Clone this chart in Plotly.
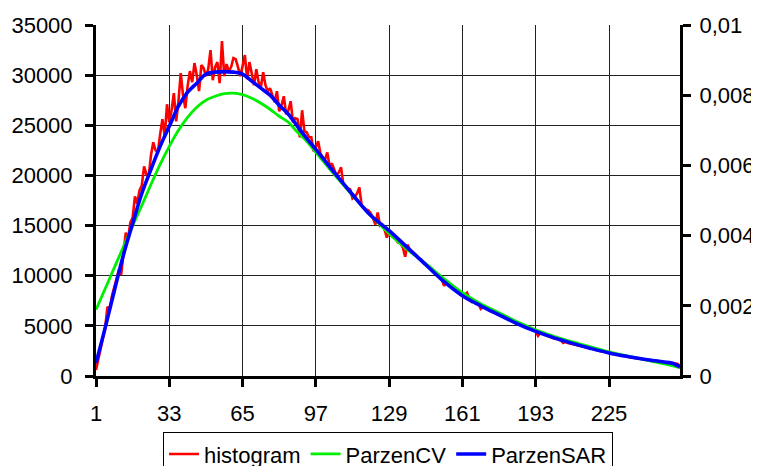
import plotly.graph_objects as go

# ── Data ──────────────────────────────────────────────────────────────────────
BINS = list(range(1, 257))

HISTOGRAM = [
    600, 1700, 2900, 3700, 4800, 6900, 6700, 8000, 8900, 9700, 10600, 10100, 12400, 14300, 13700, 15300,
    15800, 17900, 17200, 18500, 19000, 20900, 20100, 19900, 22000, 23300, 22500, 22300, 24100, 25600, 23900, 27100,
    25300, 26500, 28200, 25400, 27400, 30200, 28000, 26700, 28900, 30400, 29300, 31200, 30000, 28400, 31000, 30700,
    29900, 30600, 32500, 29500, 30800, 31300, 29200, 33400, 29900, 31100, 30400, 30800, 31700, 31600, 30800, 29900,
    30900, 32000, 29600, 31300, 30200, 29000, 30600, 29300, 28800, 30300, 29000, 28400, 28700, 28000, 27300, 28400,
    26400, 27000, 27900, 26100, 26500, 27400, 25300, 25700, 25600, 23800, 26500, 24400, 24300, 23800, 23800, 22400,
    22800, 23400, 22200, 21800, 21600, 22300, 20900, 21200, 20600, 20000, 20300, 20800, 19100, 18900, 18700, 18600,
    17700, 17900, 18200, 18800, 17000, 16800, 16600, 16500, 16200, 15700, 15100, 16300, 15000, 15100, 14600, 13800,
    14500, 14000, 13800, 13600, 13300, 13200, 12800, 11900, 13100, 12600, 12400, 12200, 12000, 11700, 11600, 11300,
    11100, 10900, 10700, 10500, 10200, 10000, 9800, 9600, 9000, 9300, 9100, 8900, 8700, 8500, 8400, 8100,
    8000, 8100, 8300, 7700, 7400, 7500, 7300, 7200, 6700, 6900, 6800, 6700, 6500, 6400, 6300, 6200,
    6100, 6000, 5900, 5800, 5700, 5600, 5500, 5300, 5200, 5100, 5000, 4900, 4800, 4700, 4600, 4550,
    4450, 4000, 4300, 4200, 4100, 4000, 3950, 3850, 3750, 3700, 3600, 3550, 3300, 3400, 3300, 3250,
    3200, 3150, 3100, 3000, 2950, 2900, 2850, 2800, 2750, 2700, 2650, 2600, 2500, 2450, 2400, 2350,
    2300, 2250, 2200, 2150, 2100, 2050, 2000, 2000, 1950, 1900, 1850, 1800, 1750, 1750, 1700, 1650,
    1650, 1600, 1600, 1550, 1500, 1500, 1450, 1450, 1400, 1350, 1350, 1300, 1300, 1250, 1200, 1000,
]

SMOOTH_X = [1, 5, 9, 13, 17, 21, 25, 29, 33, 37, 41, 45, 49, 53, 57, 61, 65, 69, 73, 77,
            81, 85, 89, 93, 97, 105, 113, 121, 129, 137, 145, 153, 161, 169, 177, 185,
            193, 201, 209, 217, 225, 233, 241, 249, 253, 256]

PARZEN_CV = [0.001886, 0.002486, 0.003086, 0.003686, 0.004286, 0.004857, 0.005457, 0.006029,
             0.006543, 0.007000, 0.007371, 0.007657, 0.007857, 0.007971, 0.008043, 0.008057,
             0.008014, 0.007914, 0.007771, 0.007600, 0.007400, 0.007229, 0.006943, 0.006686,
             0.006371, 0.005743, 0.005143, 0.004571, 0.004057, 0.003600, 0.003200, 0.002771,
             0.002371, 0.002057, 0.001800, 0.001543, 0.001314, 0.001129, 0.000971, 0.000829,
             0.000686, 0.000571, 0.000457, 0.000343, 0.000286, 0.000229]

PARZEN_SAR = [0.000371, 0.001371, 0.002429, 0.003457, 0.004343, 0.005200, 0.005886, 0.006543,
              0.007114, 0.007686, 0.008086, 0.008343, 0.008600, 0.008657, 0.008671, 0.008657,
              0.008600, 0.008400, 0.008200, 0.008000, 0.007714, 0.007457, 0.007114, 0.006771,
              0.006457, 0.005800, 0.005171, 0.004571, 0.004143, 0.003657, 0.003171, 0.002686,
              0.002286, 0.002000, 0.001743, 0.001486, 0.001271, 0.001086, 0.000929, 0.000786,
              0.000657, 0.000557, 0.000471, 0.000400, 0.000357, 0.000257]

X_TICKS = [1, 33, 65, 97, 129, 161, 193, 225]
LEFT_TICKS = [0, 5000, 10000, 15000, 20000, 25000, 30000, 35000]
LEFT_LABELS = ["0", "5000", "10000", "15000", "20000", "25000", "30000", "35000"]
RIGHT_TICKS = [0, 0.002, 0.004, 0.006, 0.008, 0.01]
RIGHT_LABELS = ["0", "0,002", "0,004", "0,006", "0,008", "0,01"]

# ── Style tokens ──────────────────────────────────────────────────────────────
FONT = "Arial, 'Liberation Sans', sans-serif"
X_RANGE = [1, 256]
LEFT_RANGE = [0, 35000]
RIGHT_RANGE = [0, 0.01]

fig = go.Figure()

fig.add_trace(go.Scatter(
    x=BINS, y=HISTOGRAM, name="histogram", mode="lines",
    line=dict(color="#ff0000", width=2.6), xaxis="x", yaxis="y",
))
fig.add_trace(go.Scatter(
    x=SMOOTH_X, y=PARZEN_CV, name="ParzenCV", mode="lines",
    line=dict(color="#00ee00", width=2.8, shape="spline"), xaxis="x", yaxis="y2",
))
fig.add_trace(go.Scatter(
    x=SMOOTH_X, y=PARZEN_SAR, name="ParzenSAR", mode="lines",
    line=dict(color="#0000ff", width=3.6, shape="spline"), xaxis="x", yaxis="y2",
))

tick_out = dict(ticks="outside", ticklen=8, tickwidth=3, tickcolor="black", automargin=False)
tick_in = dict(ticks="inside", ticklen=8, tickwidth=3, tickcolor="black", automargin=False,
               showticklabels=False, showgrid=False, zeroline=False)

# the page body adds an 8px offset, so the figure is sized to the visible area
fig.update_layout(
    width=751, height=458,
    paper_bgcolor="white", plot_bgcolor="white",
    font=dict(family=FONT, size=22, color="black"),
    margin=dict(l=88, r=79, t=17, b=90, autoexpand=False),
    showlegend=True,
    legend=dict(
        orientation="h", x=0.5, xanchor="center", y=-0.16, yanchor="top",
        bordercolor="black", borderwidth=1, bgcolor="white",
        font=dict(size=22), itemwidth=30, tracegroupgap=0,
    ),
    xaxis=dict(
        range=X_RANGE, tickmode="array", tickvals=X_TICKS,
        ticktext=[str(v) for v in X_TICKS], **tick_out,
        showline=True, linecolor="black", linewidth=3,
        showgrid=True, gridcolor="#222222", gridwidth=1, zeroline=False,
        ticklabelstandoff=8,
    ),
    xaxis2=dict(range=X_RANGE, overlaying="x", anchor="y", side="bottom",
                tickmode="array", tickvals=X_TICKS, **tick_in),
    yaxis=dict(
        range=LEFT_RANGE, tickmode="array", tickvals=LEFT_TICKS, ticktext=LEFT_LABELS,
        **tick_out, showline=True, linecolor="black", linewidth=3,
        showgrid=True, gridcolor="#222222", gridwidth=1, zeroline=False,
        ticklabelstandoff=8,
    ),
    yaxis2=dict(
        range=RIGHT_RANGE, overlaying="y", side="right", anchor="x",
        tickmode="array", tickvals=RIGHT_TICKS, ticktext=RIGHT_LABELS,
        **tick_out, showline=True, linecolor="black", linewidth=3,
        showgrid=False, zeroline=False, ticklabelstandoff=4,
    ),
    yaxis3=dict(range=LEFT_RANGE, overlaying="y", side="left", anchor="x",
                tickmode="array", tickvals=LEFT_TICKS, **tick_in),
    yaxis4=dict(range=RIGHT_RANGE, overlaying="y", side="right", anchor="x",
                tickmode="array", tickvals=RIGHT_TICKS, **tick_in),
)

fig.write_html("out.html")
